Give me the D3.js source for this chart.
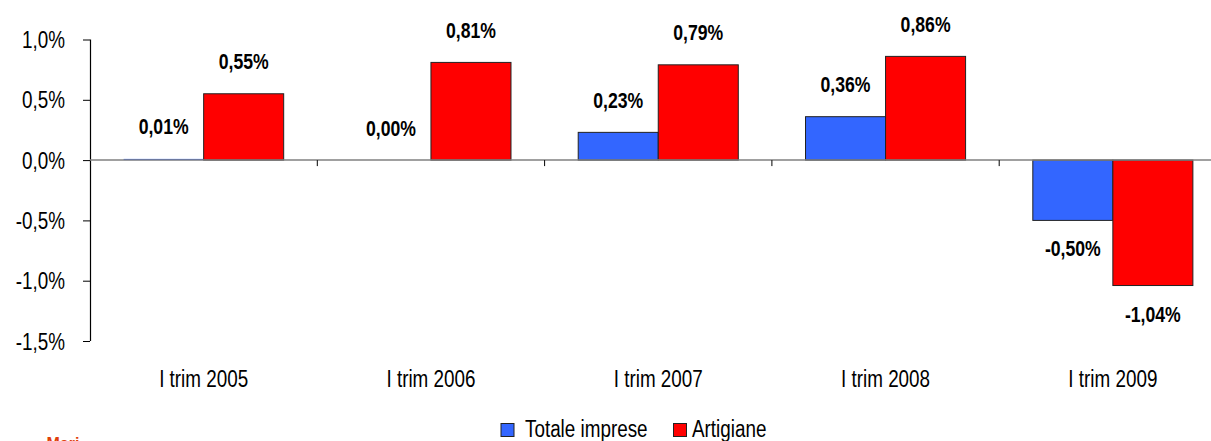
<!DOCTYPE html>
<html>
<head>
<meta charset="utf-8">
<script src="https://cdn.jsdelivr.net/npm/d3@7"></script>
<style>
  html, body { margin: 0; padding: 0; background: #ffffff; overflow: hidden; }
  svg { display: block; }
</style>
</head>
<body>
<div id="chart"></div>
<script>
// values (percent)
const categories = ['I trim 2005', 'I trim 2006', 'I trim 2007', 'I trim 2008', 'I trim 2009'];
const totaleImprese = [0.01, 0.00, 0.23, 0.36, -0.50];
const artigiane = [0.55, 0.81, 0.79, 0.86, -1.04];
const seriesNames = ['Totale imprese', 'Artigiane'];
const seriesColors = ['#3366ff', '#ff0000'];
const yTicks = [1.0, 0.5, 0.0, -0.5, -1.0, -1.5];
const footNote = 'Mari';

const width = 1211, height = 441;
const plot = { left: 90, right: 1226.5, top: 39.5, bottom: 341 };
const FONT = '"Liberation Sans", Arial, sans-serif';
const NARROW = 0.82; // no Arial Narrow installed, squeeze Liberation Sans instead

const locale = d3.formatLocale({ decimal: ',', thousands: '.', grouping: [3], currency: ['', '€'], minus: '-' });
const fmtTick = locale.format('.1f');
const fmtLabel = locale.format('.2f');

const svg = d3.select('#chart').append('svg')
	.attr('width', width)
	.attr('height', height);

const x0 = d3.scaleBand().domain(categories).range([plot.left, plot.right]).paddingInner(0).paddingOuter(0);
const x1 = d3.scaleBand().domain(seriesNames).range([0, x0.bandwidth()]).paddingInner(0).paddingOuter(0.42);
const y = d3.scaleLinear().domain([-1.5, 1.0]).range([plot.bottom, plot.top]);

const rows = categories.map((c, i) => ({
	cat: c,
	values: [
		{ name: seriesNames[0], v: totaleImprese[i], color: seriesColors[0] },
		{ name: seriesNames[1], v: artigiane[i], color: seriesColors[1] }
	]
}));

const squeeze = (x, yy) => `translate(${x},${yy}) scale(${NARROW},1)`;

// y axis
const yAxisG = svg.append('g').attr('class', 'y-axis')
	.attr('transform', `translate(${plot.left},0)`)
	.call(d3.axisLeft(y).tickValues(yTicks).tickSize(7).tickFormat(d => fmtTick(d) + '%'));
yAxisG.select('.domain').attr('stroke', '#000').attr('stroke-width', 1.2).attr('d', `M0.5,${plot.top}V${plot.bottom}`);
yAxisG.selectAll('.tick line').attr('stroke', '#000');
yAxisG.selectAll('.tick text')
	.attr('x', null)
	.attr('transform', squeeze(-25, 0))
	.attr('fill', '#000')
	.style('font-family', FONT)
	.style('font-size', '23px')
	.attr('dy', '0.35em');

// bars
const groups = svg.append('g').attr('class', 'bars').selectAll('g')
	.data(rows).join('g')
	.attr('transform', d => `translate(${x0(d.cat)},0)`);

groups.selectAll('rect').data(d => d.values).join('rect')
	.attr('x', d => x1(d.name))
	.attr('width', x1.bandwidth())
	.attr('y', d => y(Math.max(0, d.v)))
	.attr('height', d => Math.abs(y(d.v) - y(0)))
	.attr('fill', d => d.color)
	.attr('stroke', d => Math.abs(y(d.v) - y(0)) < 2 ? 'none' : '#222')
	.attr('stroke-width', 1);

// zero line + category ticks
svg.append('line')
	.attr('x1', plot.left).attr('x2', plot.right)
	.attr('y1', y(0)).attr('y2', y(0))
	.attr('stroke', '#808080').attr('stroke-width', 1.5);

svg.append('g').selectAll('line')
	.data(categories.slice(1).map(c => x0(c)).concat([plot.right]))
	.join('line')
	.attr('x1', d => d).attr('x2', d => d)
	.attr('y1', y(0)).attr('y2', y(0) + 6)
	.attr('stroke', '#000').attr('stroke-width', 1);

// category labels
svg.append('g').selectAll('text')
	.data(categories).join('text')
	.attr('transform', d => squeeze(x0(d) + x0.bandwidth() / 2, 387))
	.attr('text-anchor', 'middle')
	.style('font-family', FONT)
	.style('font-size', '23px')
	.attr('fill', '#000')
	.text(d => d);

// value labels
groups.selectAll('text.val').data(d => d.values).join('text')
	.attr('class', 'val')
	.attr('transform', d => squeeze(x1(d.name) + x1.bandwidth() / 2, d.v >= 0 ? y(d.v) - 24.5 : y(d.v) + 36))
	.attr('text-anchor', 'middle')
	.style('font-family', FONT)
	.style('font-weight', 'bold')
	.style('font-size', '21.5px')
	.attr('fill', '#000')
	.text(d => fmtLabel(d.v) + '%');

// legend
const legend = svg.append('g').attr('class', 'legend');
const legendBoxX = [501, 673.5];
const legendTextX = [525, 692];
seriesNames.forEach((name, i) => {
	legend.append('rect')
		.attr('x', legendBoxX[i]).attr('y', 423.5)
		.attr('width', 13).attr('height', 13)
		.attr('fill', seriesColors[i])
		.attr('stroke', '#222').attr('stroke-width', 1);
	legend.append('text')
		.attr('transform', squeeze(legendTextX[i], 437))
		.style('font-family', FONT)
		.style('font-size', '23px')
		.attr('fill', '#000')
		.text(name);
});

// footnote, cut by the bottom edge as in the original
svg.append('text')
	.attr('x', 46.5).attr('y', 449)
	.style('font-family', FONT)
	.style('font-weight', 'bold')
	.style('font-size', '16px')
	.attr('fill', '#e0400a')
	.text(footNote);
</script>
</body>
</html>
